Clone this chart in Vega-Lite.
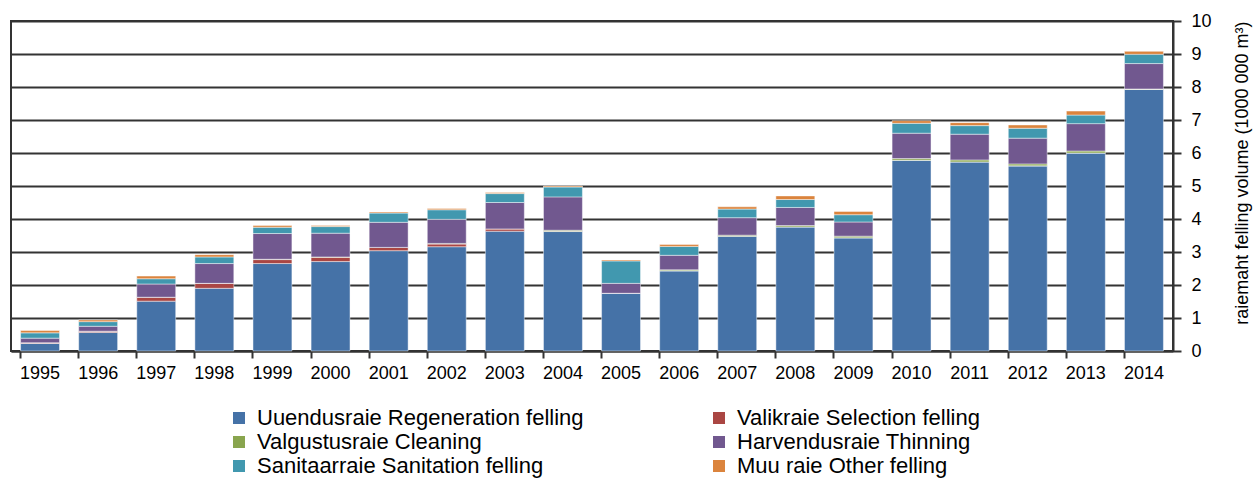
{
  "$schema": "https://vega.github.io/schema/vega-lite/v6.json",
  "autosize": "none",
  "width": 1162,
  "height": 330,
  "padding": {"left": 11, "top": 21, "right": 86, "bottom": 137},
  "background": "white",
  "config": {
    "font": "Liberation Sans",
    "view": {"stroke": "#333333", "strokeWidth": 2}
  },
  "data": {
    "values": [
      {"year": "1995", "Uuendusraie Regeneration felling": 0.23, "Valikraie Selection felling": 0.02, "Valgustusraie Cleaning": 0.0, "Harvendusraie Thinning": 0.14, "Sanitaarraie Sanitation felling": 0.16, "Muu raie Other felling": 0.07},
      {"year": "1996", "Uuendusraie Regeneration felling": 0.56, "Valikraie Selection felling": 0.04, "Valgustusraie Cleaning": 0.0, "Harvendusraie Thinning": 0.15, "Sanitaarraie Sanitation felling": 0.14, "Muu raie Other felling": 0.05},
      {"year": "1997", "Uuendusraie Regeneration felling": 1.51, "Valikraie Selection felling": 0.12, "Valgustusraie Cleaning": 0.0, "Harvendusraie Thinning": 0.40, "Sanitaarraie Sanitation felling": 0.16, "Muu raie Other felling": 0.08},
      {"year": "1998", "Uuendusraie Regeneration felling": 1.90, "Valikraie Selection felling": 0.15, "Valgustusraie Cleaning": 0.0, "Harvendusraie Thinning": 0.60, "Sanitaarraie Sanitation felling": 0.20, "Muu raie Other felling": 0.07},
      {"year": "1999", "Uuendusraie Regeneration felling": 2.65, "Valikraie Selection felling": 0.12, "Valgustusraie Cleaning": 0.01, "Harvendusraie Thinning": 0.78, "Sanitaarraie Sanitation felling": 0.19, "Muu raie Other felling": 0.05},
      {"year": "2000", "Uuendusraie Regeneration felling": 2.71, "Valikraie Selection felling": 0.13, "Valgustusraie Cleaning": 0.01, "Harvendusraie Thinning": 0.72, "Sanitaarraie Sanitation felling": 0.20, "Muu raie Other felling": 0.03},
      {"year": "2001", "Uuendusraie Regeneration felling": 3.04, "Valikraie Selection felling": 0.10, "Valgustusraie Cleaning": 0.0, "Harvendusraie Thinning": 0.76, "Sanitaarraie Sanitation felling": 0.28, "Muu raie Other felling": 0.03},
      {"year": "2002", "Uuendusraie Regeneration felling": 3.16, "Valikraie Selection felling": 0.08, "Valgustusraie Cleaning": 0.02, "Harvendusraie Thinning": 0.73, "Sanitaarraie Sanitation felling": 0.29, "Muu raie Other felling": 0.04},
      {"year": "2003", "Uuendusraie Regeneration felling": 3.63, "Valikraie Selection felling": 0.07, "Valgustusraie Cleaning": 0.0, "Harvendusraie Thinning": 0.80, "Sanitaarraie Sanitation felling": 0.27, "Muu raie Other felling": 0.03},
      {"year": "2004", "Uuendusraie Regeneration felling": 3.62, "Valikraie Selection felling": 0.01, "Valgustusraie Cleaning": 0.03, "Harvendusraie Thinning": 1.01, "Sanitaarraie Sanitation felling": 0.30, "Muu raie Other felling": 0.03},
      {"year": "2005", "Uuendusraie Regeneration felling": 1.75, "Valikraie Selection felling": 0.0, "Valgustusraie Cleaning": 0.0, "Harvendusraie Thinning": 0.30, "Sanitaarraie Sanitation felling": 0.68, "Muu raie Other felling": 0.03},
      {"year": "2006", "Uuendusraie Regeneration felling": 2.43, "Valikraie Selection felling": 0.0, "Valgustusraie Cleaning": 0.03, "Harvendusraie Thinning": 0.44, "Sanitaarraie Sanitation felling": 0.27, "Muu raie Other felling": 0.06},
      {"year": "2007", "Uuendusraie Regeneration felling": 3.48, "Valikraie Selection felling": 0.0, "Valgustusraie Cleaning": 0.03, "Harvendusraie Thinning": 0.53, "Sanitaarraie Sanitation felling": 0.26, "Muu raie Other felling": 0.07},
      {"year": "2008", "Uuendusraie Regeneration felling": 3.76, "Valikraie Selection felling": 0.0, "Valgustusraie Cleaning": 0.04, "Harvendusraie Thinning": 0.55, "Sanitaarraie Sanitation felling": 0.24, "Muu raie Other felling": 0.11},
      {"year": "2009", "Uuendusraie Regeneration felling": 3.43, "Valikraie Selection felling": 0.0, "Valgustusraie Cleaning": 0.05, "Harvendusraie Thinning": 0.43, "Sanitaarraie Sanitation felling": 0.22, "Muu raie Other felling": 0.10},
      {"year": "2010", "Uuendusraie Regeneration felling": 5.78, "Valikraie Selection felling": 0.0, "Valgustusraie Cleaning": 0.05, "Harvendusraie Thinning": 0.77, "Sanitaarraie Sanitation felling": 0.30, "Muu raie Other felling": 0.08},
      {"year": "2011", "Uuendusraie Regeneration felling": 5.73, "Valikraie Selection felling": 0.0, "Valgustusraie Cleaning": 0.06, "Harvendusraie Thinning": 0.78, "Sanitaarraie Sanitation felling": 0.26, "Muu raie Other felling": 0.09},
      {"year": "2012", "Uuendusraie Regeneration felling": 5.61, "Valikraie Selection felling": 0.0, "Valgustusraie Cleaning": 0.06, "Harvendusraie Thinning": 0.78, "Sanitaarraie Sanitation felling": 0.30, "Muu raie Other felling": 0.10},
      {"year": "2013", "Uuendusraie Regeneration felling": 6.00, "Valikraie Selection felling": 0.0, "Valgustusraie Cleaning": 0.06, "Harvendusraie Thinning": 0.83, "Sanitaarraie Sanitation felling": 0.26, "Muu raie Other felling": 0.12},
      {"year": "2014", "Uuendusraie Regeneration felling": 7.93, "Valikraie Selection felling": 0.0, "Valgustusraie Cleaning": 0.01, "Harvendusraie Thinning": 0.77, "Sanitaarraie Sanitation felling": 0.28, "Muu raie Other felling": 0.09}
    ]
  },
  "transform": [
    {"fold": ["Uuendusraie Regeneration felling", "Valikraie Selection felling", "Valgustusraie Cleaning", "Harvendusraie Thinning", "Sanitaarraie Sanitation felling", "Muu raie Other felling"], "as": ["type", "value"]},
    {"window": [{"op": "row_number", "as": "stackIndex"}], "groupby": ["year"]}
  ],
  "mark": {"type": "bar", "stroke": "white", "strokeOpacity": 0.45, "strokeWidth": 1},
  "encoding": {
    "x": {
      "field": "year",
      "type": "ordinal",
      "scale": {"paddingInner": 0.33, "paddingOuter": 0.165},
      "axis": {
        "title": null,
        "labelAngle": 0,
        "labelFontSize": 18,
        "labelColor": "#000000",
        "labelPadding": 6,
        "bandPosition": 0,
        "tickSize": 7,
        "tickWidth": 2,
        "tickColor": "#333333",
        "domainColor": "#333333",
        "domainWidth": 2,
        "grid": false
      }
    },
    "y": {
      "field": "value",
      "type": "quantitative",
      "stack": "zero",
      "scale": {"domain": [0, 10], "nice": false},
      "axis": {
        "orient": "right",
        "values": [0, 1, 2, 3, 4, 5, 6, 7, 8, 9, 10],
        "title": "raiemaht felling volume (1000 000 m³)",
        "titleFontSize": 18,
        "titleFontWeight": "normal",
        "titleColor": "#000000",
        "titleAngle": 270,
        "titleAnchor": "end",
        "titlePadding": 40,
        "labelFontSize": 18,
        "labelColor": "#000000",
        "labelPadding": 10,
        "tickSize": 8,
        "tickWidth": 2,
        "tickColor": "#333333",
        "domainColor": "#333333",
        "domainWidth": 2,
        "grid": true,
        "gridColor": "#333333",
        "gridWidth": 2,
        "gridOpacity": 1
      }
    },
    "color": {
      "field": "type",
      "type": "nominal",
      "sort": ["Uuendusraie Regeneration felling", "Valikraie Selection felling", "Valgustusraie Cleaning", "Harvendusraie Thinning", "Sanitaarraie Sanitation felling", "Muu raie Other felling"],
      "scale": {
        "domain": ["Uuendusraie Regeneration felling", "Valikraie Selection felling", "Valgustusraie Cleaning", "Harvendusraie Thinning", "Sanitaarraie Sanitation felling", "Muu raie Other felling"],
        "range": ["#4572A7", "#AA4643", "#89A54E", "#71588F", "#4198AF", "#DB843D"]
      },
      "legend": {
        "title": null,
        "orient": "none",
        "direction": "horizontal",
        "legendX": 217,
        "legendY": 386,
        "columns": 2,
        "columnPadding": 124,
        "rowPadding": 2,
        "padding": 0,
        "symbolType": "square",
        "symbolSize": 144,
        "symbolStrokeWidth": 0,
        "symbolOpacity": 1,
        "labelFontSize": 22,
        "labelColor": "#000000",
        "labelOffset": 7,
        "labelLimit": 0
      }
    },
    "order": {"field": "stackIndex", "type": "quantitative", "sort": "ascending"}
  }
}
